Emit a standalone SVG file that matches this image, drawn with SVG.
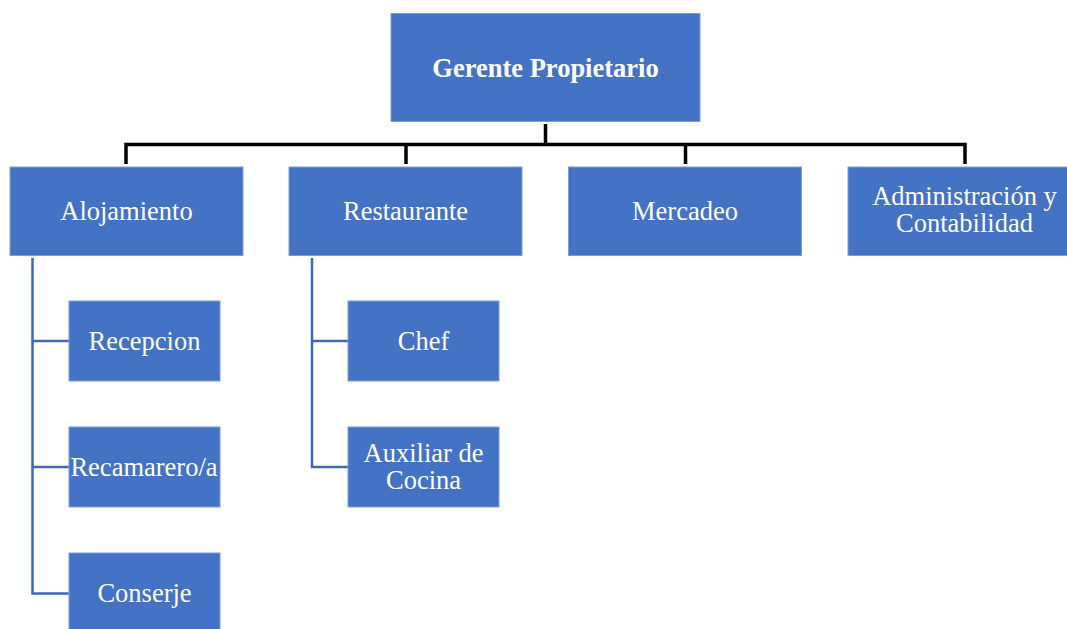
<svg xmlns="http://www.w3.org/2000/svg" width="1067" height="629" viewBox="0 0 1067 629">
<style>
.box{fill:#4472C4;stroke:#7E9CD6;stroke-width:1}
.t{font-family:"Liberation Serif","Times New Roman",serif;font-size:26.5px;fill:#FFFFFF;text-anchor:middle}
.b{font-weight:bold}
.k{stroke:#000000;stroke-width:3.5;fill:none}
.c{stroke:#3F68B3;stroke-width:2.5;fill:none}
</style>
<rect width="1067" height="629" fill="#FFFFFF"/>
<g id="connectors">
<path class="k" d="M545.5 124V144.5M126 164V144.5H965V164M406 144.5V164M685.5 144.5V164"/>
<path class="c" d="M32.5 258V593.5H69M32.5 341H69M32.5 467H69"/>
<path class="c" d="M312 258V467H348M312 341H348"/>
</g>
<g id="gerente"><rect class="box" x="391" y="13.5" width="309" height="108"/><text class="t b" x="545.5" y="77">Gerente Propietario</text></g>
<g id="alojamiento"><rect class="box" x="10" y="167" width="233" height="88.5"/><text class="t" x="126.5" y="220">Alojamiento</text></g>
<g id="restaurante"><rect class="box" x="289" y="167" width="233" height="88.5"/><text class="t" x="405.5" y="220">Restaurante</text></g>
<g id="mercadeo"><rect class="box" x="568.5" y="167" width="233" height="88.5"/><text class="t" x="685" y="220">Mercadeo</text></g>
<g id="administracion"><rect class="box" x="848" y="167" width="233" height="88.5"/><text class="t" x="964.5" y="205">Administración y</text><text class="t" x="964.5" y="232">Contabilidad</text></g>
<g id="recepcion"><rect class="box" x="69" y="301" width="151" height="80"/><text class="t" x="144.5" y="350">Recepcion</text></g>
<g id="recamarero"><rect class="box" x="69" y="427" width="151" height="80"/><text class="t" x="144" y="476">Recamarero/a</text></g>
<g id="conserje"><rect class="box" x="69" y="553" width="151" height="80"/><text class="t" x="144.5" y="602">Conserje</text></g>
<g id="chef"><rect class="box" x="348" y="301" width="151" height="80"/><text class="t" x="423.5" y="350">Chef</text></g>
<g id="auxiliar"><rect class="box" x="348" y="427" width="151" height="80"/><text class="t" x="423.5" y="462">Auxiliar de</text><text class="t" x="423.5" y="489">Cocina</text></g>
</svg>
